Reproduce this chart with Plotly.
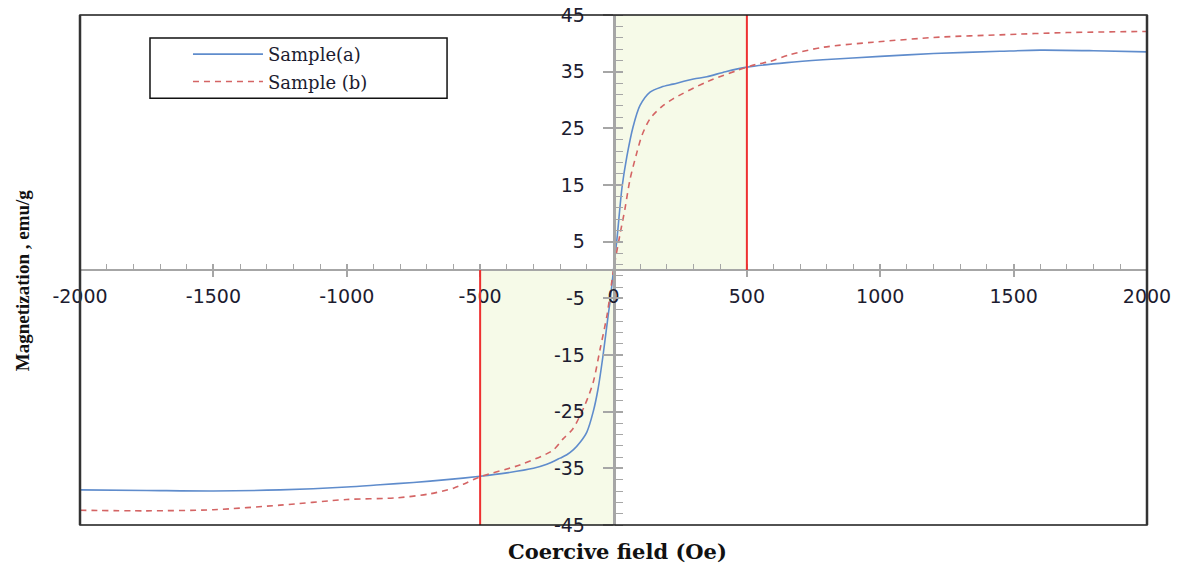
import plotly.graph_objects as go

# Hysteresis curves: magnetization (emu/g) against applied field (Oe)
field_a = [-2000, -1750, -1500, -1250, -1000, -875, -750, -625, -500, -400,
           -300, -250, -200, -175, -150, -125, -100, -76, -58, -39, -20, -13, 0,
           13, 32, 50, 73, 99, 137, 180, 223, 300, 350, 420, 500, 650,
           785, 1000, 1200, 1449, 1600, 1800, 2000]
mag_a = [-38.8, -38.9, -39.0, -38.8, -38.3, -37.9, -37.5, -37.0, -36.4, -35.8,
         -35.0, -34.3, -33.2, -32.6, -31.7, -30.4, -28.6, -25.0, -21.0, -15.0, -8.0, -5.6, 0.0,
         5.5, 14.6, 20.0, 25.2, 29.0, 31.4, 32.3, 32.8, 33.7, 34.1, 35.0, 35.8, 36.6,
         37.1, 37.7, 38.2, 38.6, 38.8, 38.7, 38.5]

field_b = [-2000, -1750, -1500, -1250, -1000, -812, -688, -600, -563, -500,
           -351, -227, -189, -152, -107, -76, -50, -24, 0,
           24, 43, 62, 88, 107, 137, 180, 223, 350, 500, 537, 587,
           662, 785, 973, 1224, 1449, 1700, 2000]
mag_b = [-42.4, -42.5, -42.3, -41.5, -40.5, -40.2, -39.5, -38.5, -37.8, -36.5,
         -34.4, -31.8, -29.8, -28.0, -23.8, -19.8, -13.9, -7.9, 0.0,
         6.2, 10.8, 16.0, 20.8, 23.8, 26.7, 28.8, 30.2, 33.2, 35.8, 36.3, 36.8,
         38.0, 39.3, 40.2, 41.1, 41.5, 41.9, 42.1]

series_names = ["Sample(a)", "Sample (b)"]

x_ticks = [-2000, -1500, -1000, -500, 0, 500, 1000, 1500, 2000]
y_ticks = [-45, -35, -25, -15, -5, 5, 15, 25, 35, 45]

field_limit = 2000
mag_limit = 45
coercive_field = 500  # highlighted field window

tick_font = dict(family="DejaVu Sans", size=19, color="#1c1c30")
axis_grey = "#a6a6a6"

fig = go.Figure()

fig.add_trace(go.Scatter(
    x=field_a, y=mag_a, name=series_names[0], mode="lines",
    line=dict(color="#5f8ccc", width=1.6, shape="spline", smoothing=0.8),
    legendgroup="a",
))
fig.add_trace(go.Scatter(
    x=field_b, y=mag_b, name=series_names[1], mode="lines",
    line=dict(color="#d46464", width=1.6, dash="6px,5px", shape="spline", smoothing=0.8),
    legendgroup="b",
))
# placeholder trace so the overlay tick axes get drawn
fig.add_trace(go.Scatter(x=[None], y=[None], xaxis="x2", yaxis="y2",
                         showlegend=False, hoverinfo="skip"))

# shaded quadrants and coercive-field markers
fig.add_shape(type="rect", xref="x", yref="y", x0=0, x1=coercive_field,
              y0=0, y1=mag_limit, fillcolor="#f6fae8", line_width=0, layer="below")
fig.add_shape(type="rect", xref="x", yref="y", x0=-coercive_field, x1=0,
              y0=-mag_limit, y1=0, fillcolor="#f6fae8", line_width=0, layer="below")
fig.add_shape(type="line", xref="x", yref="y", x0=coercive_field, x1=coercive_field,
              y0=0, y1=mag_limit, line=dict(color="#ee3030", width=2))
fig.add_shape(type="line", xref="x", yref="y", x0=-coercive_field, x1=-coercive_field,
              y0=-mag_limit, y1=0, line=dict(color="#ee3030", width=2))

# outer frame
fig.add_shape(type="rect", xref="paper", yref="paper", x0=0, x1=1, y0=0, y1=1,
              line=dict(color="#1a1a1a", width=1.5), layer="above")
fig.add_shape(type="line", xref="paper", yref="paper", x0=0, x1=0, y0=0, y1=1,
              line=dict(color="#333333", width=2.5), layer="above")
fig.add_shape(type="line", xref="paper", yref="paper", x0=1, x1=1, y0=0, y1=1,
              line=dict(color="#333333", width=2.5), layer="above")
# legend frame
fig.add_shape(type="rect", xref="paper", yref="paper", x0=0.0656, x1=0.344,
              y0=0.837, y1=0.955, line=dict(color="#111111", width=1.5),
              fillcolor="white", layer="above")

common_x = dict(range=[-field_limit, field_limit], anchor="free", position=0.5,
                showgrid=False, zeroline=False, automargin=False)
common_y = dict(range=[-mag_limit, mag_limit], anchor="free", position=0.5,
                showgrid=False, zeroline=False, automargin=False)

fig.update_layout(
    width=1185, height=563,
    margin=dict(l=80, r=38, t=15, b=38, autoexpand=False),
    paper_bgcolor="white", plot_bgcolor="white",
    xaxis=dict(**common_x, tickvals=x_ticks, ticktext=[str(v) for v in x_ticks],
               ticks="outside", ticklen=6,
               tickwidth=1.5, tickcolor=axis_grey, showline=True, linecolor=axis_grey,
               linewidth=1.5, tickfont=tick_font, ticklabelstandoff=3,
               minor=dict(ticks="inside", dtick=100, ticklen=5, tickwidth=1.2,
                          tickcolor=axis_grey)),
    yaxis=dict(**common_y, tickvals=y_ticks, ticktext=[str(v) for v in y_ticks],
               ticks="outside", ticklen=10,
               tickwidth=1.5, tickcolor=axis_grey, showline=True, linecolor=axis_grey,
               linewidth=2.5, tickfont=tick_font, ticklabelstandoff=14,
               minor=dict(ticks="inside", dtick=2, tick0=1, ticklen=8, tickwidth=1.2,
                          tickcolor=axis_grey)),
    xaxis2=dict(**common_x, overlaying="x", tickvals=x_ticks, ticks="inside",
                ticklen=6, tickwidth=1.5, tickcolor=axis_grey, showticklabels=False,
                showline=False),
    yaxis2=dict(**common_y, overlaying="y", tickvals=y_ticks, ticks="inside",
                ticklen=8, tickwidth=1.5, tickcolor=axis_grey, showticklabels=False,
                showline=False),
    legend=dict(x=0.1012, y=0.959, xanchor="left", yanchor="top",
                bgcolor="rgba(0,0,0,0)", borderwidth=0, itemwidth=70,
                tracegroupgap=1,
                font=dict(family="DejaVu Serif", size=18, color="#1c1c30")),
    showlegend=True,
)

fig.add_annotation(text="<b>Coercive field (Oe)</b>", xref="paper", yref="paper",
                   x=0.504, y=0, yanchor="middle", yshift=-26, showarrow=False,
                   font=dict(family="DejaVu Serif", size=21, color="#111111"))
fig.add_annotation(text="<b>Magnetization , emu/g</b>", xref="paper", yref="paper",
                   x=0, xanchor="center", xshift=-58, y=0.48, textangle=-90,
                   showarrow=False,
                   font=dict(family="Liberation Serif", size=19, color="#111111"))

fig.write_html("out.html")
